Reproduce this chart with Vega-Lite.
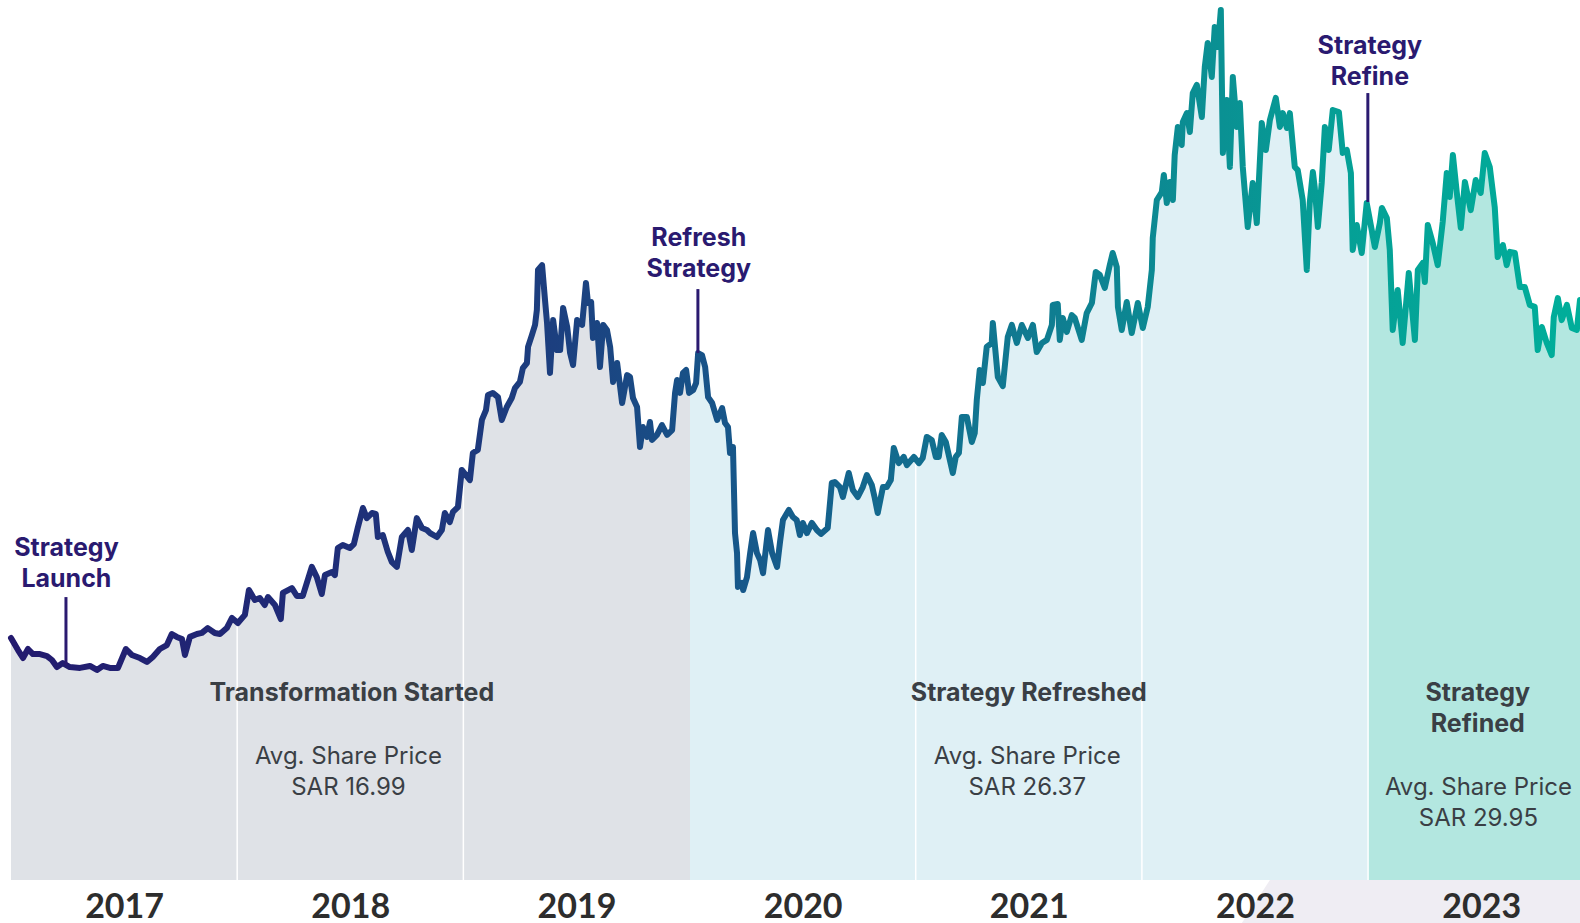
{
"$schema": "https://vega.github.io/schema/vega-lite/v6.json",
"width": 1569,
"height": 880,
"autosize": {"type": "none"},
"padding": {"left": 11, "top": 0, "right": 0, "bottom": 43},
"background": "white",
"config": {"view": {"stroke": null}, "font": "Inter"},
"datasets": {
"price": [
{"t":2017.0,"p":11.0},{"t":2017.031,"p":10.45},{"t":2017.053,"p":10.09},{"t":2017.075,"p":10.5},{"t":2017.097,"p":10.27},{"t":2017.128,"p":10.27},{"t":2017.159,"p":10.18},{"t":2017.181,"p":10.0},{"t":2017.203,"p":9.68},{"t":2017.229,"p":9.86},{"t":2017.26,"p":9.68},{"t":2017.305,"p":9.64},{"t":2017.349,"p":9.73},{"t":2017.38,"p":9.55},{"t":2017.406,"p":9.73},{"t":2017.437,"p":9.64},{"t":2017.473,"p":9.64},{"t":2017.508,"p":10.5},{"t":2017.534,"p":10.23},{"t":2017.57,"p":10.09},{"t":2017.601,"p":9.91},{"t":2017.627,"p":10.14},{"t":2017.658,"p":10.5},{"t":2017.689,"p":10.68},{"t":2017.711,"p":11.18},{"t":2017.733,"p":11.05},{"t":2017.756,"p":10.95},{"t":2017.769,"p":10.23},{"t":2017.791,"p":11.05},{"t":2017.822,"p":11.18},{"t":2017.844,"p":11.23},{"t":2017.87,"p":11.45},{"t":2017.901,"p":11.23},{"t":2017.924,"p":11.18},{"t":2017.954,"p":11.45},{"t":2017.977,"p":11.91},
{"t":2018.003,"p":11.68},{"t":2018.034,"p":12.05},{"t":2018.052,"p":13.18},{"t":2018.078,"p":12.73},{"t":2018.1,"p":12.82},{"t":2018.122,"p":12.5},{"t":2018.136,"p":12.86},{"t":2018.167,"p":12.5},{"t":2018.193,"p":11.86},{"t":2018.202,"p":13.05},{"t":2018.242,"p":13.27},{"t":2018.264,"p":12.91},{"t":2018.29,"p":12.91},{"t":2018.33,"p":14.23},{"t":2018.352,"p":13.77},{"t":2018.374,"p":13.0},{"t":2018.388,"p":13.86},{"t":2018.419,"p":14.0},{"t":2018.432,"p":13.86},{"t":2018.445,"p":15.09},{"t":2018.467,"p":15.23},{"t":2018.498,"p":15.09},{"t":2018.516,"p":15.27},{"t":2018.534,"p":16.05},{"t":2018.556,"p":16.91},{"t":2018.573,"p":16.45},{"t":2018.596,"p":16.68},{"t":2018.613,"p":16.64},{"t":2018.622,"p":15.59},{"t":2018.644,"p":15.68},{"t":2018.666,"p":14.91},{"t":2018.684,"p":14.45},{"t":2018.706,"p":14.23},{"t":2018.728,"p":15.59},{"t":2018.755,"p":15.91},{"t":2018.772,"p":15.0},{"t":2018.794,"p":16.45},{"t":2018.817,"p":16.0},{"t":2018.839,"p":15.91},{"t":2018.853,"p":15.77},{"t":2018.883,"p":15.59},{"t":2018.905,"p":15.91},{"t":2018.918,"p":16.68},{"t":2018.94,"p":16.27},{"t":2018.954,"p":16.73},{"t":2018.976,"p":16.95},{"t":2018.993,"p":18.64},
{"t":2019.029,"p":18.18},{"t":2019.042,"p":19.41},{"t":2019.064,"p":19.55},{"t":2019.082,"p":20.91},{"t":2019.1,"p":21.36},{"t":2019.109,"p":22.05},{"t":2019.13,"p":22.14},{"t":2019.153,"p":21.95},{"t":2019.17,"p":20.91},{"t":2019.192,"p":21.5},{"t":2019.214,"p":21.91},{"t":2019.228,"p":22.36},{"t":2019.25,"p":22.64},{"t":2019.263,"p":23.27},{"t":2019.281,"p":23.5},{"t":2019.286,"p":24.23},{"t":2019.303,"p":24.77},{"t":2019.317,"p":25.23},{"t":2019.325,"p":25.91},{"t":2019.33,"p":27.73},{"t":2019.348,"p":27.95},{"t":2019.361,"p":26.36},{"t":2019.37,"p":25.32},{"t":2019.383,"p":23.05},{"t":2019.397,"p":25.45},{"t":2019.414,"p":24.09},{"t":2019.428,"p":24.09},{"t":2019.441,"p":26.0},{"t":2019.459,"p":25.14},{"t":2019.472,"p":23.95},{"t":2019.485,"p":23.41},{"t":2019.503,"p":25.45},{"t":2019.525,"p":25.23},{"t":2019.542,"p":27.14},{"t":2019.551,"p":26.23},{"t":2019.565,"p":26.27},{"t":2019.573,"p":24.64},{"t":2019.591,"p":25.32},{"t":2019.604,"p":23.32},{"t":2019.618,"p":25.23},{"t":2019.635,"p":25.0},{"t":2019.649,"p":24.23},{"t":2019.662,"p":22.64},{"t":2019.68,"p":23.5},{"t":2019.702,"p":21.68},{"t":2019.724,"p":22.95},{"t":2019.737,"p":22.86},{"t":2019.75,"p":21.91},{"t":2019.768,"p":21.5},{"t":2019.781,"p":19.68},{"t":2019.794,"p":20.59},{"t":2019.812,"p":20.14},{"t":2019.825,"p":20.82},{"t":2019.834,"p":20.0},{"t":2019.856,"p":20.23},{"t":2019.878,"p":20.68},{"t":2019.901,"p":20.23},{"t":2019.923,"p":20.45},{"t":2019.936,"p":22.14},{"t":2019.945,"p":22.73},{"t":2019.958,"p":22.14},{"t":2019.971,"p":23.05},{"t":2019.985,"p":23.18},{"t":2019.998,"p":22.14},
{"t":2020.016,"p":22.27},{"t":2020.029,"p":22.59},{"t":2020.038,"p":23.95},{"t":2020.055,"p":23.86},{"t":2020.069,"p":23.32},{"t":2020.082,"p":21.95},{"t":2020.1,"p":21.68},{"t":2020.122,"p":20.91},{"t":2020.144,"p":21.45},{"t":2020.157,"p":20.77},{"t":2020.17,"p":20.59},{"t":2020.179,"p":19.41},{"t":2020.192,"p":19.68},{"t":2020.201,"p":15.77},{"t":2020.21,"p":14.86},{"t":2020.214,"p":13.32},{"t":2020.232,"p":13.5},{"t":2020.237,"p":13.18},{"t":2020.254,"p":13.77},{"t":2020.268,"p":14.86},{"t":2020.281,"p":15.77},{"t":2020.298,"p":14.86},{"t":2020.312,"p":14.55},{"t":2020.325,"p":13.95},{"t":2020.347,"p":15.91},{"t":2020.365,"p":14.86},{"t":2020.387,"p":14.23},{"t":2020.4,"p":15.36},{"t":2020.413,"p":16.36},{"t":2020.439,"p":16.82},{"t":2020.457,"p":16.5},{"t":2020.474,"p":16.36},{"t":2020.488,"p":15.68},{"t":2020.501,"p":16.23},{"t":2020.519,"p":15.77},{"t":2020.541,"p":16.23},{"t":2020.563,"p":15.91},{"t":2020.581,"p":15.73},{"t":2020.611,"p":16.0},{"t":2020.629,"p":18.05},{"t":2020.642,"p":18.09},{"t":2020.665,"p":17.86},{"t":2020.678,"p":17.41},{"t":2020.704,"p":18.5},{"t":2020.722,"p":17.73},{"t":2020.744,"p":17.41},{"t":2020.766,"p":17.86},{"t":2020.784,"p":18.41},{"t":2020.806,"p":17.95},{"t":2020.819,"p":17.36},{"t":2020.832,"p":16.68},{"t":2020.855,"p":17.86},{"t":2020.872,"p":17.86},{"t":2020.89,"p":18.18},{"t":2020.903,"p":19.64},{"t":2020.925,"p":18.95},{"t":2020.947,"p":19.23},{"t":2020.961,"p":18.86},{"t":2020.992,"p":19.23},
{"t":2021.014,"p":18.95},{"t":2021.031,"p":19.18},{"t":2021.049,"p":20.14},{"t":2021.071,"p":20.0},{"t":2021.089,"p":19.23},{"t":2021.102,"p":19.23},{"t":2021.115,"p":20.23},{"t":2021.133,"p":19.91},{"t":2021.151,"p":19.09},{"t":2021.164,"p":18.5},{"t":2021.177,"p":19.23},{"t":2021.191,"p":19.41},{"t":2021.204,"p":21.05},{"t":2021.226,"p":21.05},{"t":2021.248,"p":19.91},{"t":2021.261,"p":20.32},{"t":2021.27,"p":21.82},{"t":2021.283,"p":23.18},{"t":2021.297,"p":22.59},{"t":2021.314,"p":24.23},{"t":2021.336,"p":24.41},{"t":2021.341,"p":25.32},{"t":2021.363,"p":22.86},{"t":2021.385,"p":22.45},{"t":2021.407,"p":24.68},{"t":2021.425,"p":25.23},{"t":2021.447,"p":24.41},{"t":2021.469,"p":25.23},{"t":2021.496,"p":24.64},{"t":2021.518,"p":25.23},{"t":2021.535,"p":24.0},{"t":2021.558,"p":24.41},{"t":2021.58,"p":24.55},{"t":2021.602,"p":25.23},{"t":2021.606,"p":26.14},{"t":2021.628,"p":26.18},{"t":2021.637,"p":24.55},{"t":2021.65,"p":25.55},{"t":2021.668,"p":24.91},{"t":2021.69,"p":25.68},{"t":2021.703,"p":25.55},{"t":2021.734,"p":24.55},{"t":2021.756,"p":25.77},{"t":2021.779,"p":26.23},{"t":2021.796,"p":27.64},{"t":2021.814,"p":27.5},{"t":2021.836,"p":26.91},{"t":2021.858,"p":27.95},{"t":2021.871,"p":28.5},{"t":2021.889,"p":27.86},{"t":2021.894,"p":26.05},{"t":2021.911,"p":25.0},{"t":2021.933,"p":26.27},{"t":2021.955,"p":24.86},{"t":2021.982,"p":26.23},
{"t":2022.004,"p":25.09},{"t":2022.026,"p":26.05},{"t":2022.044,"p":27.73},{"t":2022.048,"p":29.18},{"t":2022.066,"p":30.91},{"t":2022.088,"p":31.27},{"t":2022.097,"p":32.05},{"t":2022.11,"p":30.77},{"t":2022.123,"p":31.73},{"t":2022.137,"p":30.91},{"t":2022.145,"p":32.95},{"t":2022.159,"p":34.23},{"t":2022.176,"p":33.41},{"t":2022.181,"p":34.45},{"t":2022.199,"p":34.86},{"t":2022.212,"p":34.0},{"t":2022.225,"p":35.77},{"t":2022.243,"p":36.14},{"t":2022.265,"p":34.68},{"t":2022.278,"p":36.95},{"t":2022.291,"p":38.05},{"t":2022.309,"p":36.5},{"t":2022.322,"p":38.77},{"t":2022.336,"p":37.86},{"t":2022.349,"p":39.55},{"t":2022.358,"p":33.05},{"t":2022.375,"p":35.45},{"t":2022.389,"p":32.41},{"t":2022.402,"p":36.5},{"t":2022.42,"p":34.23},{"t":2022.433,"p":35.32},{"t":2022.446,"p":32.41},{"t":2022.468,"p":29.68},{"t":2022.49,"p":31.68},{"t":2022.508,"p":29.86},{"t":2022.53,"p":34.41},{"t":2022.548,"p":33.18},{"t":2022.566,"p":34.55},{"t":2022.592,"p":35.55},{"t":2022.61,"p":34.23},{"t":2022.623,"p":34.86},{"t":2022.641,"p":34.18},{"t":2022.654,"p":34.86},{"t":2022.676,"p":32.41},{"t":2022.689,"p":32.27},{"t":2022.711,"p":30.91},{"t":2022.729,"p":27.73},{"t":2022.742,"p":30.77},{"t":2022.756,"p":32.18},{"t":2022.764,"p":31.5},{"t":2022.778,"p":29.68},{"t":2022.795,"p":31.68},{"t":2022.809,"p":34.23},{"t":2022.826,"p":33.18},{"t":2022.844,"p":35.0},{"t":2022.871,"p":34.91},{"t":2022.888,"p":33.05},{"t":2022.906,"p":33.18},{"t":2022.924,"p":32.14},{"t":2022.932,"p":28.64},{"t":2022.95,"p":29.77},{"t":2022.972,"p":28.5},{"t":2022.994,"p":30.77},
{"t":2023.016,"p":29.55},{"t":2023.03,"p":28.77},{"t":2023.052,"p":29.86},{"t":2023.061,"p":30.55},{"t":2023.083,"p":30.09},{"t":2023.096,"p":28.64},{"t":2023.109,"p":25.0},{"t":2023.131,"p":26.82},{"t":2023.153,"p":24.41},{"t":2023.18,"p":27.59},{"t":2023.207,"p":24.55},{"t":2023.22,"p":27.73},{"t":2023.242,"p":28.05},{"t":2023.251,"p":27.18},{"t":2023.264,"p":29.77},{"t":2023.286,"p":28.95},{"t":2023.308,"p":27.95},{"t":2023.33,"p":29.91},{"t":2023.348,"p":32.14},{"t":2023.361,"p":31.05},{"t":2023.375,"p":32.95},{"t":2023.392,"p":31.27},{"t":2023.41,"p":29.64},{"t":2023.428,"p":31.73},{"t":2023.454,"p":30.45},{"t":2023.476,"p":31.82},{"t":2023.498,"p":31.23},{"t":2023.516,"p":33.05},{"t":2023.538,"p":32.41},{"t":2023.56,"p":30.59},{"t":2023.573,"p":28.32},{"t":2023.596,"p":28.86},{"t":2023.613,"p":27.95},{"t":2023.627,"p":28.55},{"t":2023.649,"p":28.5},{"t":2023.671,"p":26.95},{"t":2023.693,"p":26.95},{"t":2023.715,"p":26.14},{"t":2023.737,"p":26.05},{"t":2023.75,"p":24.09},{"t":2023.768,"p":25.14},{"t":2023.79,"p":24.41},{"t":2023.812,"p":23.86},{"t":2023.821,"p":25.59},{"t":2023.839,"p":26.45},{"t":2023.856,"p":25.45},{"t":2023.879,"p":26.14},{"t":2023.901,"p":25.09},{"t":2023.923,"p":25.0},{"t":2023.937,"p":26.36}
],
"grid": [{"t":2018,"p":40,"p2":0},{"t":2019,"p":40,"p2":0},{"t":2021,"p":40,"p2":0},{"t":2022,"p":40,"p2":0},{"t":2023,"p":40,"p2":0}],
"events": [
{"t":2017.243,"p":12.86,"p2":9.77,"tt":2017.245,"pt":15.07,"label":["Strategy","Launch"]},
{"t":2020.037,"p":26.86,"p2":23.95,"tt":2020.041,"pt":29.16,"label":["Refresh","Strategy"]},
{"t":2022.999,"p":35.77,"p2":30.82,"tt":2023.008,"pt":37.91,"label":["Strategy","Refine"]}
],
"periods": [
{"t":2018.507,"p":8.5,"label":["Transformation Started"]},
{"t":2021.5,"p":8.5,"label":["Strategy Refreshed"]},
{"t":2023.485,"p":8.48,"label":["Strategy","Refined"]}
],
"averages": [
{"t":2018.492,"p":5.57,"label":["Avg. Share Price","SAR 16.99"]},
{"t":2021.493,"p":5.57,"label":["Avg. Share Price","SAR 26.37"]},
{"t":2023.488,"p":4.2,"label":["Avg. Share Price","SAR 29.95"]}
],
"backdrop": [{"t":2022.442,"p":-1.95,"p2":-1.95},{"t":2022.566,"p":0,"p2":-1.95},{"t":2023.937,"p":0,"p2":-1.95}]
},
"encoding": {
"x": {"field": "t", "type": "quantitative",
 "scale": {"domain": [2017, 2023.937], "nice": false, "zero": false},
 "axis": {"values": [2017.5, 2018.5, 2019.5, 2020.5, 2021.5, 2022.5, 2023.5], "labelExpr": "floor(datum.value)", "ticks": false, "domain": false, "grid": false, "title": null, "labelFont": "Lato", "labelFontSize": 34, "labelFontWeight": "bold", "labelColor": "#2d2d2d", "labelBaseline": "top", "labelPadding": 10, "labelFlush": false, "labelOverlap": false, "zindex": 1}},
"y": {"field": "p", "type": "quantitative", "scale": {"domain": [0, 40], "nice": false, "zero": false}, "axis": null}
},
"layer": [
{"data": {"name": "backdrop"}, "mark": {"type": "area", "color": "#efedf3", "orient": "vertical"}, "encoding": {"y2": {"field": "p2"}}},
{"data": {"name": "price"}, "mark": {"type": "area", "orient": "vertical", "fill": {"gradient": "linear", "x1": 0, "x2": 1, "y1": 0, "y2": 0, "stops": [{"offset": 0, "color": "#dfe2e7"}, {"offset": 0.4325, "color": "#dfe2e7"}, {"offset": 0.4326, "color": "#dff0f5"}, {"offset": 0.8651, "color": "#dff0f5"}, {"offset": 0.8652, "color": "#b3e7e0"}, {"offset": 1, "color": "#b3e7e0"}]}}},
{"data": {"name": "grid"}, "mark": {"type": "rule", "color": "#ffffff", "strokeWidth": 1.5}, "encoding": {"y2": {"field": "p2"}}},
{"data": {"name": "price"}, "mark": {"type": "line", "strokeWidth": 6, "strokeJoin": "round", "strokeCap": "round", "stroke": {"gradient": "linear", "x1": 0, "x2": 1, "y1": 0, "y2": 0, "stops": [{"offset": 0, "color": "#231a6e"}, {"offset": 0.2, "color": "#1f2d78"}, {"offset": 0.346, "color": "#1c3f7f"}, {"offset": 0.469, "color": "#16588a"}, {"offset": 0.613, "color": "#117490"}, {"offset": 0.772, "color": "#0a9193"}, {"offset": 0.851, "color": "#05a096"}, {"offset": 1, "color": "#00ae9a"}]}}},
{"data": {"name": "events"}, "mark": {"type": "rule", "color": "#2a1a70", "strokeWidth": 3}, "encoding": {"y2": {"field": "p2"}}},
{"data": {"name": "events"}, "mark": {"type": "text", "font": "Inter", "fontSize": 25, "fontWeight": "bold", "color": "#2a1a70", "align": "center", "baseline": "middle", "lineHeight": 31}, "encoding": {"x": {"field": "tt", "type": "quantitative"}, "y": {"field": "pt", "type": "quantitative"}, "text": {"field": "label"}}},
{"data": {"name": "periods"}, "mark": {"type": "text", "font": "Inter", "fontSize": 25, "fontWeight": "bold", "color": "#3a3f45", "align": "center", "baseline": "middle", "lineHeight": 31}, "encoding": {"text": {"field": "label"}}},
{"data": {"name": "averages"}, "mark": {"type": "text", "font": "Inter", "fontSize": 24, "fontWeight": "normal", "color": "#3a3f45", "align": "center", "baseline": "middle", "lineHeight": 31}, "encoding": {"text": {"field": "label"}}}
]
}
